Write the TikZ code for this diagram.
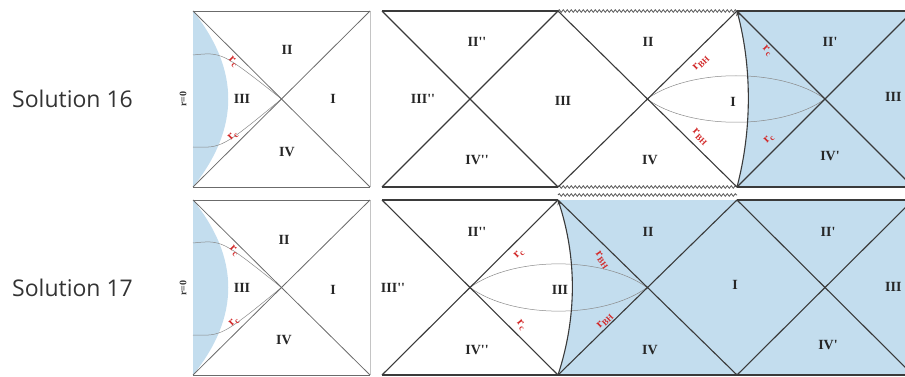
\documentclass[tikz,border=0pt]{standalone}
\usepackage{fontspec}
\setmainfont{Liberation Serif}
\newfontfamily\solfont{Open Sans}
\usetikzlibrary{decorations.pathmorphing,arrows.meta}
\definecolor{bhblue}{HTML}{C3DDEE}
\definecolor{edgec}{HTML}{3A3A3A}
\definecolor{thinc}{HTML}{8A8A8A}
\definecolor{labc}{HTML}{D22B2B}
\newcommand{\pp}{\textquotesingle\textquotesingle}
\newcommand{\p}{\textquotesingle}
\newcommand{\rsub}[1]{r\kern0.3pt\raisebox{-0.35ex}{\fontsize{8.5}{8.5}\selectfont #1}}
\tikzset{
 mainline/.style={draw=edgec, line width=1.1pt},
 smallline/.style={draw=edgec!75, line width=0.8pt},
 thinline/.style={draw=thinc, line width=0.5pt},
 wavyline/.style={draw=edgec!85, line width=0.8pt, decorate, decoration={snake, segment length=4pt, amplitude=1.3pt}},
 region/.style={font=\bfseries\fontsize{14}{14}\selectfont, text=black!85, inner sep=0pt},
 rlab/.style={font=\bfseries\fontsize{12}{12}\selectfont, text=labc, inner sep=0pt},
 sol/.style={font=\solfont\fontsize{23}{23}\selectfont, text=black!80, anchor=west, inner sep=0pt},
 rzero/.style={font=\bfseries\fontsize{10}{10}\selectfont, rotate=90, text=black!80, inner sep=0pt},
 horizon/.style={draw=edgec, line width=1.1pt, -{Stealth[length=5pt,width=4pt]}},
}
\begin{document}
\begin{tikzpicture}[x=1pt,y=-1pt]
\useasboundingbox (0,0) rectangle (905,377);
\clip (0,0) rectangle (905,377);

% ================= TOP ROW (Solution 16) =================
\node[sol] (sol16) at (12,99) {Solution 16};
\node[rzero] (rz16) at (183,99) {r=0};

% small diagram
\coordinate (aTL) at (193,11);
\coordinate (aTR) at (370,11);
\coordinate (aBL) at (193,187);
\coordinate (aBR) at (370,187);
\coordinate (aC) at (281.5,99);
\fill[bhblue] (aTL) .. controls (240,70) and (240,128) .. (aBL) -- cycle;
\draw[thinline] (193,55) .. controls (222,52) .. (aC);
\draw[thinline] (193,147) .. controls (222,148) .. (aC);
\draw[smallline] (aTL) -- (aTR);
\draw[smallline] (aBL) -- (aBR);
\draw[draw=edgec!30, line width=0.6pt] (aTR) -- (aBR);
\draw[smallline] (aTL) -- (aBR);
\draw[smallline] (aBL) -- (aTR);
\node[region] (aII) at (287,50) {II};
\node[region] (aIII) at (242,99) {III};
\node[region] (aI) at (333,99) {I};
\node[region] (aIV) at (287,152) {IV};
\node[rlab, rotate=-45] (arc1) at (233,62) {\rsub{c}};
\node[rlab, rotate=45] (arc2) at (233,136) {\rsub{c}};

% big diagram
\coordinate (b1T) at (382,11);  \coordinate (b1B) at (382,187);
\coordinate (b2) at (470,99);
\coordinate (b3T) at (558,11);  \coordinate (b3B) at (558,187);
\coordinate (b4) at (647,99);
\coordinate (b5T) at (737,11);  \coordinate (b5B) at (737,187);
\coordinate (b6) at (825,99);
\coordinate (b7T) at (913,11);  \coordinate (b7B) at (913,187);
\coordinate (bRT) at (905,11);  \coordinate (bRB) at (905,187);
\fill[bhblue] (b5T) .. controls (752,68) and (752,130) .. (b5B) -- (bRB) -- (bRT) -- cycle;
\draw[thinline] (b4) .. controls (690,68) and (782,68) .. (b6);
\draw[thinline] (b4) .. controls (690,130) and (782,130) .. (b6);
\draw[mainline] (b1T) -- (b3T);
\draw[mainline] (b1B) -- (b3B);
\draw[wavyline] (b3T) -- (b5T);
\draw[wavyline] (b3B) -- (b5B);
\draw[mainline] (b5T) -- (bRT);
\draw[mainline] (b5B) -- (bRB);
\draw[mainline] (b1T) -- (b3B);
\draw[mainline] (b1B) -- (b3T);
\draw[mainline] (b3T) -- (b5B);
\draw[mainline] (b3B) -- (b5T);
\draw[mainline] (b5T) -- (b7B);
\draw[mainline] (b5B) -- (b7T);
\draw[horizon] (b5B) .. controls (752,130) and (752,68) .. (b5T);
\node[region] (bII2) at (477,42) {II\pp};
\node[region] (bIII2) at (423,99) {III\pp};
\node[region] (bIV2) at (477,160) {IV\pp};
\node[region] (bIII) at (563,101) {III};
\node[region] (bII) at (648,42) {II};
\node[region] (bIV) at (650,160) {IV};
\node[region] (bI) at (733,102) {I};
\node[region] (bII1) at (830,42) {II\p};
\node[region] (bIV1) at (830,156) {IV\p};
\node[region, anchor=west] (bIIIr) at (885,97) {III};
\node[rlab, rotate=45] (brbh1) at (701,63) {\rsub{BH}};
\node[rlab, rotate=-45] (brbh2) at (700,137) {\rsub{BH}};
\node[rlab, rotate=-45] (brc1) at (767,51) {\rsub{c}};
\node[rlab, rotate=45] (brc2) at (769,139) {\rsub{c}};

% ================= BOTTOM ROW (Solution 17) =================
\node[sol] (sol17) at (12,288) {Solution 17};
\node[rzero] (rz17) at (183,288) {r=0};

% small diagram
\coordinate (cTL) at (193,200);
\coordinate (cTR) at (370,200);
\coordinate (cBL) at (193,375);
\coordinate (cBR) at (370,375);
\coordinate (cC) at (281.5,287.5);
\fill[bhblue] (cTL) .. controls (240,258) and (240,317) .. (cBL) -- cycle;
\draw[thinline] (193,243) .. controls (222,240) .. (cC);
\draw[thinline] (193,335) .. controls (222,336) .. (cC);
\draw[smallline] (cTL) -- (cTR);
\draw[smallline] (cBL) -- (cBR);
\draw[draw=edgec!30, line width=0.6pt] (cTR) -- (cBR);
\draw[smallline] (cTL) -- (cBR);
\draw[smallline] (cBL) -- (cTR);
\node[region] (cII) at (284,240) {II};
\node[region] (cIII) at (242,288) {III};
\node[region] (cI) at (333,290) {I};
\node[region] (cIV) at (284,340) {IV};
\node[rlab, rotate=-45] (crc1) at (234,251) {\rsub{c}};
\node[rlab, rotate=45] (crc2) at (234,322) {\rsub{c}};

% big diagram
\coordinate (d1T) at (382,200);  \coordinate (d1B) at (382,375);
\coordinate (d2) at (470,287.5);
\coordinate (d3T) at (558,200);  \coordinate (d3B) at (558,375);
\coordinate (d4) at (647,287.5);
\coordinate (d5T) at (737,200);  \coordinate (d5B) at (737,375);
\coordinate (d6) at (825,287.5);
\coordinate (d7T) at (913,200);  \coordinate (d7B) at (913,375);
\coordinate (dRT) at (905,200);  \coordinate (dRB) at (905,375);
\coordinate (dW1) at (558,195);  \coordinate (dW2) at (737,195);
\fill[bhblue] (d3T) .. controls (577,258) and (577,317) .. (d3B) -- (dRB) -- (dRT) -- cycle;
\draw[thinline] (d2) .. controls (513,256) and (604,256) .. (d4);
\draw[thinline] (d2) .. controls (513,319) and (604,319) .. (d4);
\draw[mainline] (d1T) -- (d3T);
\draw[wavyline] (dW1) -- (dW2);
\draw[mainline] (d5T) -- (dRT);
\draw[mainline] (d1B) -- (dRB);
\draw[mainline] (d1T) -- (d3B);
\draw[mainline] (d1B) -- (d3T);
\draw[mainline] (d3T) -- (d5B);
\draw[mainline] (d3B) -- (d5T);
\draw[mainline] (d5T) -- (d7B);
\draw[mainline] (d5B) -- (d7T);
\draw[horizon] (d3B) .. controls (577,317) and (577,258) .. (d3T);
\node[region] (dII2) at (477,232) {II\pp};
\node[region] (dIII2) at (393,288) {III\pp};
\node[region] (dIV2) at (477,350) {IV\pp};
\node[region] (dIII) at (560,290) {III};
\node[region] (dII) at (648,232) {II};
\node[region] (dIV) at (650,350) {IV};
\node[region] (dI) at (735,285) {I};
\node[region] (dII1) at (828,232) {II\p};
\node[region] (dIV1) at (828,345) {IV\p};
\node[region, anchor=west] (dIIIr) at (885,287) {III};
\node[rlab, rotate=45] (drc1) at (519,254) {\rsub{c}};
\node[rlab, rotate=-50] (drc2) at (521,325) {\rsub{c}};
\node[rlab, rotate=-55] (drbh1) at (602,260) {\rsub{BH}};
\node[rlab, rotate=45] (drbh2) at (605,321) {\rsub{BH}};
\end{tikzpicture}
\end{document}
